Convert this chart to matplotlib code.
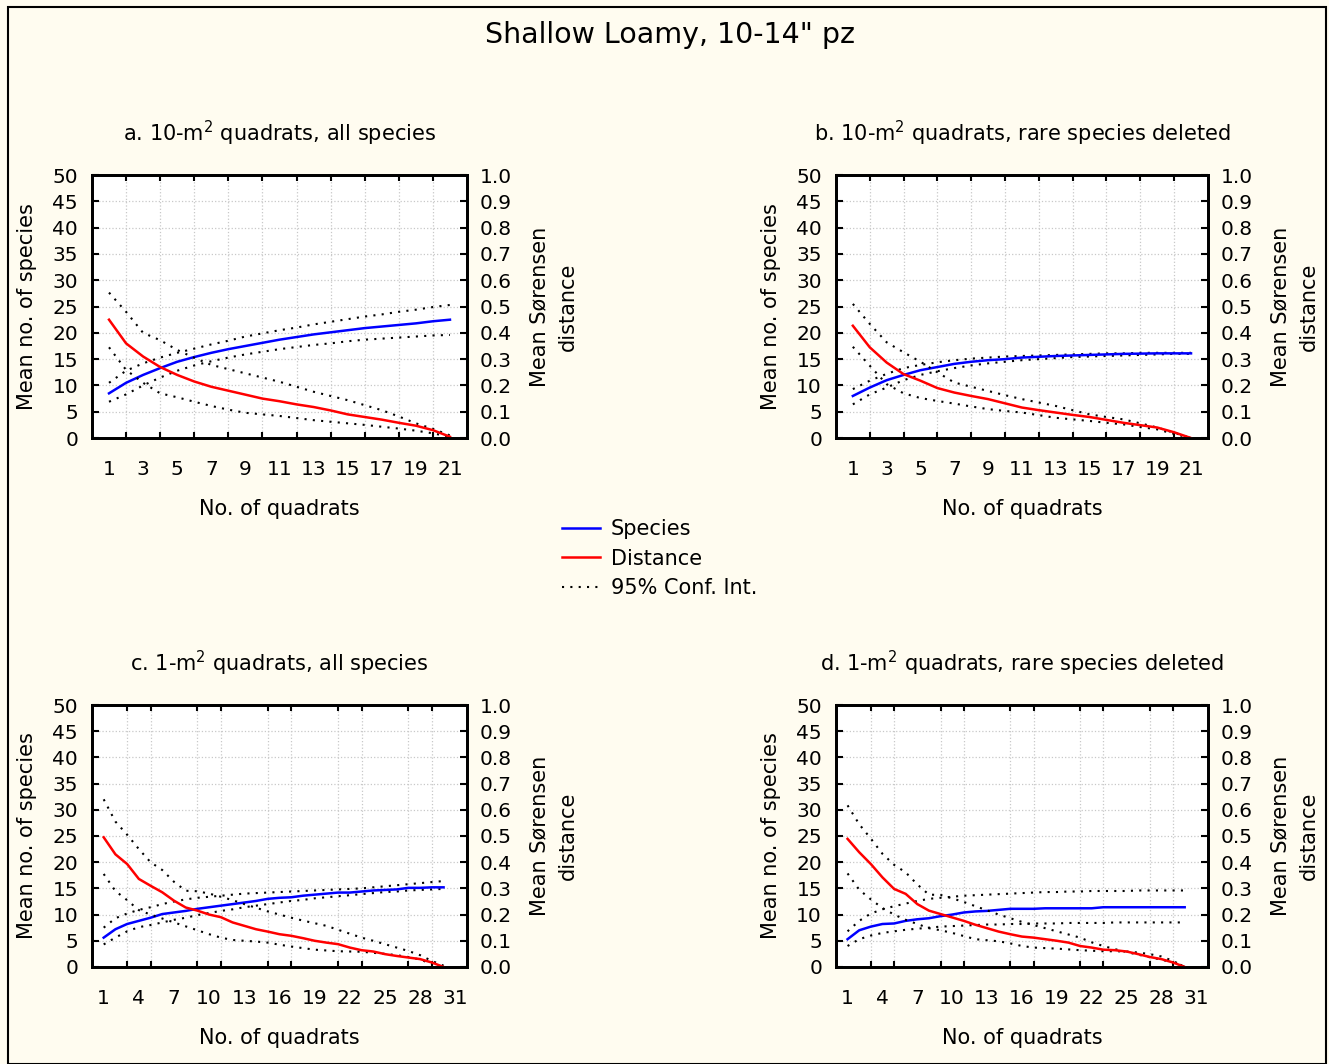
import numpy as np
import matplotlib
matplotlib.use("Agg")
import matplotlib.pyplot as plt
from matplotlib.lines import Line2D
from matplotlib.patches import Rectangle

plt.rcParams['font.family'] = ['DejaVu Sans']

BG = '#fffcf0'

# ---------------------------------
# Data
# ---------------------------------
quadrats_10m = np.arange(1, 22)
quadrats_1m = np.arange(1, 31)

# a. 10-m2 quadrats, all species
a_species = [8.5, 10.5, 12.0, 13.3, 14.5, 15.4, 16.2, 16.9, 17.5, 18.1, 18.7,
             19.2, 19.7, 20.1, 20.5, 20.9, 21.2, 21.5, 21.8, 22.2, 22.5]
a_species_hi = [10.5, 12.8, 14.2, 15.3, 16.2, 17.0, 17.8, 18.5, 19.3, 19.9, 20.5,
                21.0, 21.6, 22.1, 22.6, 23.1, 23.5, 24.0, 24.4, 24.9, 25.3]
a_species_lo = [6.9, 8.3, 10.0, 11.5, 12.8, 13.8, 14.6, 15.3, 15.9, 16.4, 16.9,
                17.3, 17.7, 18.0, 18.4, 18.7, 18.9, 19.1, 19.3, 19.5, 19.6]
a_dist = [0.45, 0.36, 0.31, 0.27, 0.24, 0.215, 0.195, 0.18, 0.165, 0.15, 0.14,
          0.128, 0.118, 0.105, 0.09, 0.08, 0.07, 0.058, 0.047, 0.03, 0.005]
a_dist_hi = [0.553, 0.48, 0.40, 0.372, 0.335, 0.305, 0.278, 0.262, 0.246, 0.23, 0.214,
             0.195, 0.176, 0.16, 0.144, 0.125, 0.106, 0.082, 0.056, 0.035, 0.01]
a_dist_lo = [0.345, 0.259, 0.21, 0.17, 0.155, 0.138, 0.122, 0.108, 0.096, 0.09, 0.084,
             0.076, 0.068, 0.062, 0.056, 0.05, 0.043, 0.036, 0.028, 0.018, 0.005]

# b. 10-m2 quadrats, rare species deleted
b_species = [8.0, 9.6, 11.0, 12.0, 12.9, 13.5, 14.1, 14.5, 14.8, 15.0, 15.3,
             15.45, 15.6, 15.7, 15.8, 15.9, 16.0, 16.05, 16.1, 16.1, 16.1]
b_species_hi = [9.3, 10.9, 12.2, 13.3, 13.9, 14.4, 14.8, 15.1, 15.3, 15.5, 15.6,
                15.7, 15.8, 15.9, 16.0, 16.1, 16.1, 16.2, 16.2, 16.2, 16.2]
b_species_lo = [6.4, 8.3, 9.6, 11.0, 12.0, 12.7, 13.3, 13.8, 14.2, 14.5, 14.8,
                15.0, 15.2, 15.4, 15.5, 15.6, 15.7, 15.8, 15.9, 16.0, 16.0]
b_dist = [0.427, 0.345, 0.287, 0.243, 0.218, 0.19, 0.173, 0.16, 0.148, 0.132, 0.116,
          0.106, 0.097, 0.088, 0.08, 0.069, 0.058, 0.049, 0.04, 0.022, 0.0]
b_dist_hi = [0.51, 0.434, 0.364, 0.326, 0.29, 0.25, 0.211, 0.195, 0.179, 0.163, 0.148,
             0.135, 0.122, 0.106, 0.09, 0.08, 0.071, 0.056, 0.04, 0.02, 0.0]
b_dist_lo = [0.347, 0.275, 0.205, 0.17, 0.152, 0.141, 0.131, 0.12, 0.11, 0.103, 0.097,
             0.087, 0.077, 0.071, 0.065, 0.058, 0.052, 0.042, 0.033, 0.016, 0.0]

# c. 1-m2 quadrats, all species
c_species = [5.6, 7.2, 8.2, 8.8, 9.4, 10.1, 10.4, 10.7, 11.1, 11.4, 11.7, 12.0, 12.3,
             12.6, 13.0, 13.2, 13.3, 13.6, 13.8, 14.0, 14.2, 14.2, 14.4, 14.6, 14.7,
             14.8, 15.1, 15.1, 15.2, 15.2]
c_species_hi = [7.5, 9.3, 10.2, 10.9, 11.4, 12.0, 12.5, 12.9, 13.2, 13.4, 13.6, 13.8,
                14.0, 14.1, 14.2, 14.3, 14.4, 14.5, 14.6, 14.7, 14.8, 14.9, 15.0, 15.2,
                15.4, 15.6, 15.8, 16.0, 16.2, 16.4]
c_species_lo = [4.3, 5.6, 6.8, 7.6, 8.0, 8.5, 9.0, 9.4, 9.9, 10.3, 10.7, 11.0, 11.4,
                11.7, 12.0, 12.3, 12.6, 12.8, 13.1, 13.3, 13.5, 13.7, 13.9, 14.1, 14.3,
                14.4, 14.6, 14.7, 14.8, 14.9]
c_dist = [0.495, 0.43, 0.393, 0.336, 0.31, 0.285, 0.253, 0.227, 0.215, 0.2, 0.19,
          0.17, 0.157, 0.144, 0.135, 0.125, 0.119, 0.11, 0.1, 0.093, 0.087, 0.074,
          0.064, 0.059, 0.049, 0.042, 0.036, 0.03, 0.017, 0.0]
c_dist_hi = [0.64, 0.555, 0.505, 0.45, 0.40, 0.37, 0.325, 0.291, 0.289, 0.28, 0.268,
             0.255, 0.24, 0.226, 0.212, 0.2, 0.188, 0.177, 0.167, 0.157, 0.142, 0.127,
             0.112, 0.1, 0.087, 0.074, 0.061, 0.045, 0.023, 0.005]
c_dist_lo = [0.355, 0.29, 0.255, 0.217, 0.2, 0.185, 0.17, 0.155, 0.14, 0.125, 0.112,
             0.103, 0.1, 0.097, 0.093, 0.085, 0.078, 0.072, 0.066, 0.063, 0.06, 0.059,
             0.058, 0.054, 0.05, 0.045, 0.038, 0.028, 0.012, 0.0]

# d. 1-m2 quadrats, rare species deleted
d_species = [5.3, 7.0, 7.7, 8.2, 8.3, 8.8, 9.1, 9.3, 9.7, 10.0, 10.4, 10.6, 10.7,
             10.9, 11.1, 11.1, 11.1, 11.2, 11.2, 11.2, 11.2, 11.2, 11.4, 11.4, 11.4,
             11.4, 11.4, 11.4, 11.4, 11.4]
d_species_hi = [6.8, 8.8, 10.2, 11.0, 11.6, 12.1, 12.6, 13.0, 13.2, 13.4, 13.6, 13.7,
                13.8, 13.9, 14.0, 14.1, 14.2, 14.3, 14.3, 14.4, 14.4, 14.5, 14.5, 14.5,
                14.5, 14.6, 14.6, 14.6, 14.6, 14.6]
d_species_lo = [4.0, 5.3, 6.0, 6.5, 6.8, 7.1, 7.3, 7.5, 7.7, 7.8, 7.9, 8.0, 8.1, 8.1,
                8.2, 8.2, 8.3, 8.3, 8.3, 8.4, 8.4, 8.4, 8.4, 8.5, 8.5, 8.5, 8.5, 8.5,
                8.5, 8.5]
d_dist = [0.489, 0.438, 0.393, 0.342, 0.298, 0.279, 0.24, 0.215, 0.202, 0.189, 0.176,
          0.161, 0.148, 0.135, 0.125, 0.116, 0.112, 0.106, 0.1, 0.093, 0.08, 0.074,
          0.066, 0.064, 0.059, 0.049, 0.038, 0.03, 0.017, 0.0]
d_dist_hi = [0.617, 0.545, 0.49, 0.432, 0.39, 0.361, 0.315, 0.276, 0.275, 0.262, 0.248,
             0.232, 0.216, 0.2, 0.186, 0.172, 0.16, 0.148, 0.136, 0.124, 0.112, 0.094,
             0.08, 0.068, 0.057, 0.047, 0.037, 0.028, 0.017, 0.003]
d_dist_lo = [0.357, 0.295, 0.258, 0.225, 0.2, 0.18, 0.164, 0.148, 0.14, 0.13, 0.118,
             0.106, 0.102, 0.098, 0.09, 0.08, 0.074, 0.072, 0.07, 0.067, 0.064, 0.062,
             0.06, 0.06, 0.059, 0.055, 0.049, 0.04, 0.023, 0.0]

panel_titles = ["a. 10-m$^2$ quadrats, all species",
                "b. 10-m$^2$ quadrats, rare species deleted",
                "c. 1-m$^2$ quadrats, all species",
                "d. 1-m$^2$ quadrats, rare species deleted"]

ticks_10m = list(range(1, 22))
labels_10m = list(range(1, 22, 2))
ticks_1m = list(range(1, 32, 2))
labels_1m = list(range(1, 32, 3))

FS = 14.5
DOT = (0, (1, 3))


def draw_panel(rect, x, sp, sp_lo, sp_hi, dist, d_lo, d_hi, xlim, ticks, labels, title):
    ax = fig.add_axes(rect)
    ax.set_facecolor('white')
    ax2 = ax.twinx()

    ax.plot(x, sp_hi, color='black', lw=1.5, linestyle=DOT)
    ax.plot(x, sp_lo, color='black', lw=1.5, linestyle=DOT)
    ax.plot(x, sp, color='#0000ff', lw=1.8)
    ax2.plot(x, d_hi, color='black', lw=1.5, linestyle=DOT)
    ax2.plot(x, d_lo, color='black', lw=1.5, linestyle=DOT)
    ax2.plot(x, dist, color='#ff0000', lw=1.8)

    ax.set_xlim(*xlim)
    ax.set_ylim(0, 50)
    ax2.set_ylim(0, 1.0)
    ax.set_yticks(np.arange(0, 51, 5))
    ax2.set_yticks(np.arange(0, 1.01, 0.1))
    ax2.set_yticklabels([f"{v:.1f}" for v in np.arange(0, 1.01, 0.1)])

    # labelled positions carry no tick mark; marks and grid sit on minor ticks
    ax.set_xticks(labels)
    ax.set_xticks(ticks, minor=True)
    ax.tick_params(axis='x', which='major', length=0, labelsize=FS, pad=16)
    ax.tick_params(axis='x', which='minor', direction='in', length=4, width=1.5,
                   top=True, bottom=True)
    ax.grid(True, axis='x', which='minor', color='#c8c8c8', linestyle=':', linewidth=0.9)
    ax.grid(True, axis='y', which='major', color='#c8c8c8', linestyle=':', linewidth=0.9)

    ax.tick_params(axis='y', direction='in', length=5, width=1.5, labelsize=FS, pad=10,
                   left=True, right=False)
    ax2.tick_params(axis='y', direction='in', length=5, width=1.5, labelsize=FS, pad=9)
    for a in (ax, ax2):
        for s in a.spines.values():
            s.set_linewidth(2)

    ax.set_xlabel("No. of quadrats", fontsize=15, labelpad=14)
    ax.set_ylabel("Mean no. of species", fontsize=15, labelpad=11)
    ax2.set_ylabel("Mean S\u00f8rensen\ndistance", fontsize=15, labelpad=13,
                   linespacing=1.5)
    ax.set_title(title, fontsize=15, pad=24)
    return ax


fig = plt.figure(figsize=(13.29, 10.64), dpi=100, facecolor=BG)
fig.patches.append(Rectangle((0.006, 0.0), 0.992, 0.993, transform=fig.transFigure,
                             fill=False, edgecolor='black', lw=1.5))

w, h = 0.2822, 0.2472
draw_panel([0.0692, 0.5883, w, h], quadrats_10m, a_species, a_species_lo, a_species_hi,
           a_dist, a_dist_lo, a_dist_hi, (0, 22), ticks_10m, labels_10m, panel_titles[0])
draw_panel([0.629, 0.5883, w - 0.0023, h], quadrats_10m, b_species, b_species_lo, b_species_hi,
           b_dist, b_dist_lo, b_dist_hi, (0, 22), ticks_10m, labels_10m, panel_titles[1])
draw_panel([0.0692, 0.0912, w, 0.2462], quadrats_1m, c_species, c_species_lo, c_species_hi,
           c_dist, c_dist_lo, c_dist_hi, (0, 32), ticks_1m, labels_1m, panel_titles[2])
draw_panel([0.629, 0.0912, w - 0.0023, 0.2462], quadrats_1m, d_species, d_species_lo, d_species_hi,
           d_dist, d_dist_lo, d_dist_hi, (0, 32), ticks_1m, labels_1m, panel_titles[3])

fig.text(0.504, 0.967, 'Shallow Loamy, 10-14" pz', ha='center', va='center', fontsize=20.5)

handles = [Line2D([], [], color='#0000ff', lw=1.8),
           Line2D([], [], color='#ff0000', lw=1.8),
           Line2D([], [], color='black', lw=1.5, linestyle=DOT)]
fig.legend(handles, ["Species", "Distance", "95% Conf. Int."], loc='upper left',
           bbox_to_anchor=(0.4229, 0.512), frameon=False, fontsize=15,
           borderpad=0, borderaxespad=0, handlelength=1.8, handletextpad=0.55,
           labelspacing=0.45)

fig.savefig("out.png", dpi=100, facecolor=BG)
